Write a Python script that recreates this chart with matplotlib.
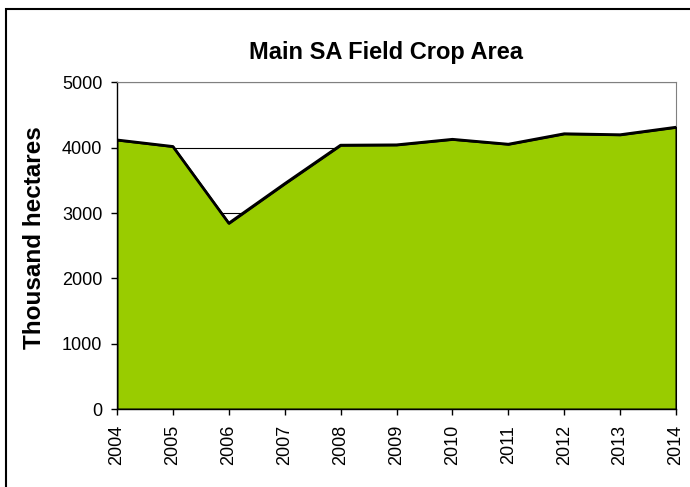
import matplotlib
matplotlib.use("Agg")
import matplotlib.pyplot as plt
from matplotlib.patches import Rectangle

years = [2004, 2005, 2006, 2007, 2008, 2009, 2010, 2011, 2012, 2013, 2014]
area = [4120, 4020, 2845, 3450, 4040, 4045, 4130, 4055, 4215, 4200, 4315]
y_ticks = [0, 1000, 2000, 3000, 4000, 5000]

plt.rcParams['font.family'] = ['Liberation Sans', 'DejaVu Sans']

fig = plt.figure(figsize=(6.9, 4.87), dpi=100)
# chart border like the excel chart frame
fig.patches.append(Rectangle((6 / 690, -0.1), 1.2, 1 - 9 / 487 + 0.1,
                             transform=fig.transFigure, fill=False,
                             edgecolor='black', linewidth=1.5))

ax = fig.add_axes([117 / 690, 1 - 409 / 487, 559 / 690, 326.5 / 487])
ax.set_axisbelow(True)
ax.grid(True, axis='y', color='black', linewidth=0.8)
ax.fill_between(years, area, 0, facecolor='#99CC00', edgecolor='black',
                linewidth=1.5, zorder=3)
ax.plot(years, area, color='black', linewidth=2, zorder=4)

ax.set_xlim(years[0], years[-1])
ax.set_ylim(0, 5000)
ax.set_yticks(y_ticks)
ax.set_xticks(years)
ax.set_xticklabels([str(y) for y in years], rotation=90)
ax.tick_params(axis='both', labelsize=13, length=4.5, width=1, direction='out')
ax.tick_params(axis='x', pad=7)
ax.tick_params(axis='y', pad=6)

for side in ['top', 'right']:
    ax.spines[side].set_color('#808080')
for side in ['left', 'bottom']:
    ax.spines[side].set_color('black')
    ax.spines[side].set_linewidth(1)

fig.text(35 / 690, 1 - 238 / 487, 'Thousand hectares', rotation=90,
         ha='center', va='center', fontsize=17.5, fontweight='bold')
fig.text(386 / 690, 1 - 52 / 487, 'Main SA Field Crop Area', ha='center', va='center',
         fontsize=17, fontweight='bold')

fig.savefig('out.png', dpi=100)
